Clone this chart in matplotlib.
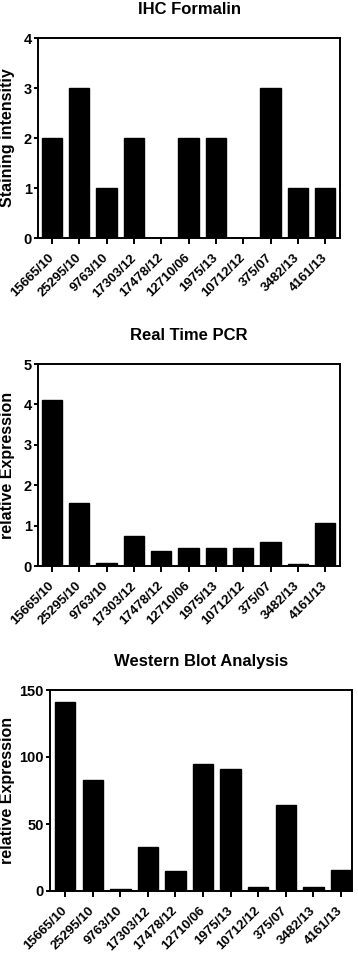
import numpy as np
import matplotlib
matplotlib.use("Agg")
import matplotlib.pyplot as plt

plt.rcParams['font.family'] = ['Liberation Sans', 'DejaVu Sans']
plt.rcParams['font.weight'] = 'bold'

# echantillons
samples = ["15665/10", "25295/10", "9763/10", "17303/12", "17478/12", "12710/06",
           "1975/13", "10712/12", "375/07", "3482/13", "4161/13"]

ihc = [2, 3, 1, 2, 0, 2, 2, 0, 3, 1, 1]
pcr = [4.12, 1.55, 0.07, 0.75, 0.38, 0.44, 0.45, 0.44, 0.60, 0.06, 1.06]
wb = [141, 83, 1.5, 33, 15, 95, 91, 3, 64, 3, 16]

titles = ["IHC Formalin", "Real Time PCR", "Western Blot Analysis"]
ylabels = ["Staining intensitiy", "relative Expression", "relative Expression"]
yticks = [[0, 1, 2, 3, 4], [0, 1, 2, 3, 4, 5], [0, 50, 100, 150]]
ylims = [(0, 4), (0, 5), (0, 150)]

W, H = 358, 956
fig = plt.figure(figsize=(W / 100, H / 100), dpi=100)

# positions en pixels : gauche, droite, haut, bas
boxes = [(38, 340, 38, 238), (38, 340, 364, 566), (50, 352, 690, 891)]
xlims = [(-0.51, 10.54), (-0.51, 10.54), (-0.55, 10.4)]

x = np.arange(len(samples))
for i, data in enumerate([ihc, pcr, wb]):
    l, r, t, b = boxes[i]
    ax = fig.add_axes([l / W, 1 - b / H, (r - l) / W, (b - t) / H])
    ax.bar(x, data, width=0.74, color="black", edgecolor="black")
    ax.set_xlim(*xlims[i])
    ax.set_ylim(*ylims[i])
    ax.set_yticks(yticks[i])
    ax.set_xticks(x)
    ax.set_xticklabels(samples, rotation=45, ha="right", va="center",
                       rotation_mode="anchor", fontsize=9.5, fontweight="bold")
    ax.tick_params(axis="y", labelsize=10.5, width=1.4, length=3, pad=1.5)
    ax.tick_params(axis="x", width=1.4, length=4, pad=9)
    for s in ax.spines.values():
        s.set_linewidth(1.4)
    ax.set_ylabel(ylabels[i], fontsize=11.5, fontweight="bold")
    ax.yaxis.set_label_coords((15 - l) / (r - l), 0.5)
    ax.set_title(titles[i], fontsize=12, fontweight="bold", pad=17)

fig.savefig("out.png", dpi=100)
